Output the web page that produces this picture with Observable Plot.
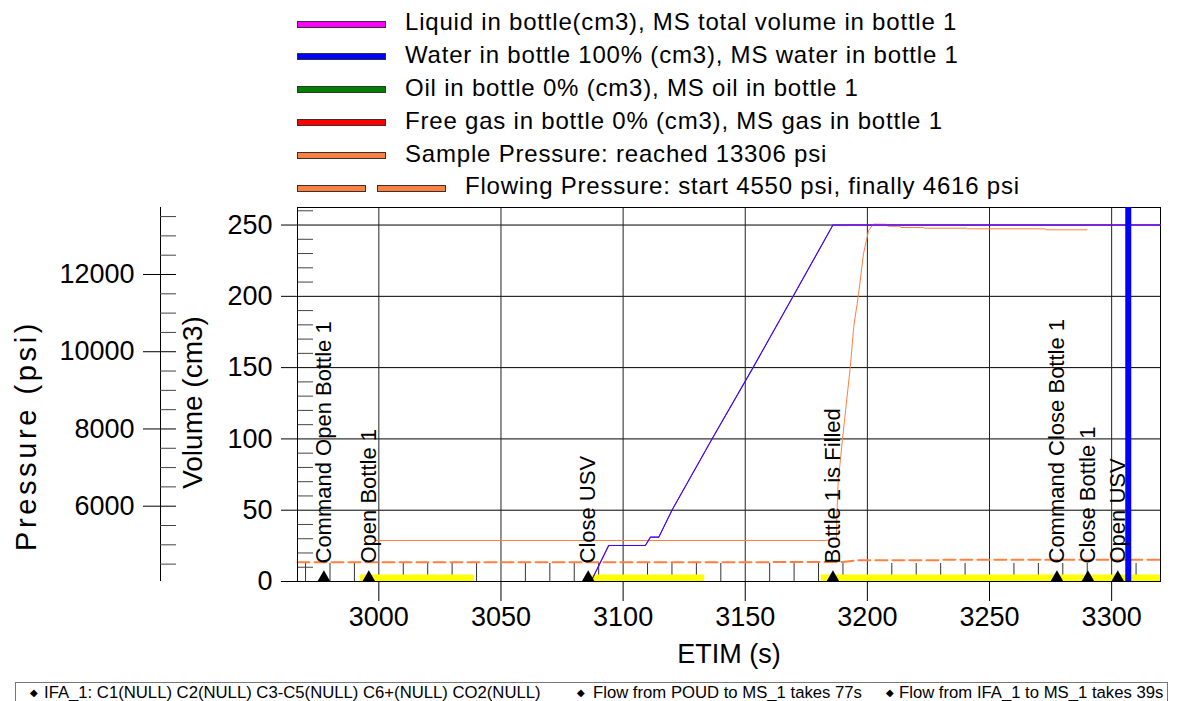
<!DOCTYPE html>
<html>
<head>
<meta charset="utf-8">
<script src="https://cdn.jsdelivr.net/npm/d3@7"></script>
<script src="https://cdn.jsdelivr.net/npm/@observablehq/plot@0.6"></script>
<style>
  body { margin: 0; background: #fff; font-family: "Liberation Sans", Arial, sans-serif; color: #000; }
  #wrap { position: relative; width: 1178px; height: 701px; overflow: hidden; background: #fff; }
  #chart { position: absolute; left: 0; top: 0; }
  #legend { position: absolute; left: 0; top: 0; width: 1178px; height: 200px; }
  .lrow { position: absolute; left: 0; height: 32px; width: 1178px; }
  .lsw { position: absolute; height: 5px; border: 1px solid #333; box-sizing: content-box; }
  .ltxt { position: absolute; font-size: 24px; letter-spacing: 0.8px; line-height: 32px; white-space: nowrap; top: -1px; }
  #caption { position: absolute; left: 15px; top: 682px; width: 1153px; height: 40px; border: 1px solid #777; box-sizing: border-box; }
  .citem { position: absolute; top: 0; font-size: 16.7px; line-height: 20px; white-space: nowrap; }
  .cdia { position: absolute; top: 5px; font-size: 10px; line-height: 10px; font-family: "DejaVu Sans", sans-serif; }
</style>
</head>
<body>
<div id="wrap">
  <div id="chart"></div>
  <div id="legend"></div>
  <div id="caption"></div>
</div>
<script>
// ---------- data ----------
const legendLabels = [
  "Liquid in bottle(cm3), MS total volume in bottle 1",
  "Water in bottle 100% (cm3), MS water in bottle 1",
  "Oil in bottle 0% (cm3), MS oil in bottle 1",
  "Free gas in bottle 0% (cm3), MS gas in bottle 1",
  "Sample Pressure: reached 13306 psi",
  "Flowing Pressure: start 4550 psi, finally 4616 psi"
];
const legendColors = ["#ff00ff", "#0000ff", "#008000", "#ff0000", "#ff8040", "#ff8040"];

const timeTicks = [3000, 3050, 3100, 3150, 3200, 3250, 3300];
const volumeTicks = [0, 50, 100, 150, 200, 250];
const pressureTicks = [6000, 8000, 10000, 12000];

// volumes (cm3) vs ETIM (s)
const volumeTime   = [3087.3, 3094.1, 3109.1, 3111.2, 3114.6, 3120.0, 3136.4, 3153.2, 3169.6, 3185.9, 3320];
const liquidVolume = [1.5, 25.3, 25.3, 31.1, 31.1, 50, 100, 150, 200, 250, 250];
const waterVolume  = [1.5, 25.3, 25.3, 31.1, 31.1, 50, 100, 150, 200, 250, 250];
const oilVolume    = [0, 0, 0, 0, 0, 0, 0, 0, 0, 0, 0];
const gasVolume    = [0, 0, 0, 0, 0, 0, 0, 0, 0, 0, 0];

// sample pressure (psi)
const sampleTime = [2998.5, 3182.8, 3186.5, 3187.3, 3187.6, 3188.0, 3189.6, 3193.0, 3194.4, 3196.4, 3198.4, 3200.5,
                    3202.5, 3208.0, 3208.3, 3213.4, 3213.7, 3223.0, 3223.3, 3240.7, 3241.0, 3272.8, 3273.1, 3289.9];
const samplePsi  = [5112, 5112, 5160, 5164, 5889, 6580, 7616, 9600, 10635, 11500, 12536, 13139,
                    13306, 13300, 13251, 13251, 13217, 13217, 13199, 13199, 13183, 13183, 13157, 13157];

// flowing pressure (psi)
const flowTime = [2966.7, 3190.0, 3196.0, 3229.0, 3231.0, 3320];
const flowPsi  = [4550, 4552, 4598, 4600, 4612, 4616];

// events
const eventTime  = [2977.5, 2995.9, 3085.7, 3185.9, 3277.6, 3290.3, 3302.5];
const eventLabel = ["Command Open Bottle 1", "Open Bottle 1", "Close USV", "Bottle 1 is Filled",
                    "Command Close Bottle 1", "Close Bottle 1", "Open USV"];

// flow periods (yellow)
const flowBarStart = [2992.5, 3087.3, 3181.1];
const flowBarEnd   = [3039.1, 3133.4, 3320];

// MS measurement
const msTime = [3306.8];

const captionItems = [
  "IFA_1: C1(NULL) C2(NULL) C3-C5(NULL) C6+(NULL) CO2(NULL)",
  "Flow from POUD to MS_1 takes 77s",
  "Flow from IFA_1 to MS_1 takes 39s"
];

// ---------- scales / mapping ----------
const xDomain = [2966.7, 3320];
const volTop = 262.3;
const pMin = 4050, pMax = 13735;
const toVol = p => (p - pMin) / (pMax - pMin) * volTop;
const toPsi = v => pMin + v / volTop * (pMax - pMin);

const timeMinor = d3.range(2970, 3320, 10).filter(t => t % 50 !== 0);
const volMinor = d3.range(10, 261, 10).filter(v => v % 50 !== 0);
const psiMinor = d3.range(4500, 13501, 500).filter(p => p % 2000 !== 0);

const series = (t, v) => t.map((d, i) => ({t: d, v: v[i]}));
const liquid = series(volumeTime, liquidVolume);
const water = series(volumeTime, waterVolume);
const oil = series(volumeTime, oilVolume);
const gas = series(volumeTime, gasVolume);
const sample = series(sampleTime, samplePsi.map(toVol));
const flowing = series(flowTime, flowPsi.map(toVol));
const events = eventTime.map((t, i) => ({t, label: eventLabel[i]}));
const bars = flowBarStart.map((s, i) => ({s, e: flowBarEnd[i]}));

const FONT = '"Liberation Sans", Arial, sans-serif';

const chart = Plot.plot({
  width: 1178,
  height: 681,
  marginLeft: 297,
  marginRight: 18,
  marginTop: 207,
  marginBottom: 100,
  style: {fontFamily: FONT, fontSize: "27px", color: "#000", background: "transparent", overflow: "visible"},
  x: {domain: xDomain},
  y: {domain: [0, volTop]},
  marks: [
    Plot.gridY(volumeTicks, {stroke: "#000", strokeOpacity: 1}),
    Plot.gridX(timeTicks, {stroke: "#222", strokeOpacity: 1}),
    Plot.axisX(timeMinor, {anchor: "bottom", tickSize: -18, fill: "none", stroke: "#333", label: null}),
    Plot.axisY(volMinor, {anchor: "left", tickSize: -16, fill: "none", stroke: "#444", label: null}),
    Plot.line(oil, {x: "t", y: "v", stroke: "#008000", strokeWidth: 1}),
    Plot.line(gas, {x: "t", y: "v", stroke: "#ff0000", strokeWidth: 1}),
    Plot.line(flowing, {x: "t", y: "v", stroke: "#ff8040", strokeWidth: 2, strokeDasharray: "12 5"}),
    Plot.ruleY(bars, {x1: "s", x2: "e", y: 0, stroke: "#ffff00", strokeWidth: 7, dy: -3.5}),
    Plot.frame({stroke: "#000"}),
    Plot.line(sample, {x: "t", y: "v", stroke: "#ff8040", strokeWidth: 1}),
    Plot.line(liquid, {x: "t", y: "v", stroke: "#ff00ff", strokeWidth: 1}),
    Plot.line(water, {x: "t", y: "v", stroke: "#2a10f0", strokeWidth: 1.1}),
    Plot.ruleX(msTime, {stroke: "#0000ff", strokeWidth: 6}),
    Plot.dot(events, {x: "t", y: 0, symbol: "triangle", r: 4.8, fill: "#000", stroke: "none", dy: -3.8}),
    Plot.text(events, {x: "t", y: 0, text: "label", rotate: -90, textAnchor: "start", lineAnchor: "middle",
                       dy: -18, fontSize: 22, fill: "#000"}),
    // x axis
    Plot.axisX(timeTicks, {anchor: "bottom", tickSize: 20, tickPadding: 5, fontSize: 27, tickFormat: d => String(d), label: null}),
    Plot.text(["ETIM (s)"], {frameAnchor: "bottom", dy: 81, lineAnchor: "bottom", fontSize: 27}),
    // volume axis
    Plot.axisY(volumeTicks, {anchor: "left", tickSize: 16, tickPadding: 9, fontSize: 27, tickFormat: d => String(d), label: null}),
    Plot.text(["Volume (cm3)"], {frameAnchor: "left", textAnchor: "middle", dx: -104, dy: 8, rotate: -90, lineAnchor: "middle", fontSize: 28}),
    // pressure axis
    Plot.ruleX([xDomain[0]], {y1: 0, y2: volTop, dx: -137, stroke: "#000"}),
    Plot.axisY(pressureTicks.map(toVol), {anchor: "left", dx: -121, tickSize: 33, tickPadding: 9, fontSize: 27,
                                          tickFormat: v => String(Math.round(toPsi(v))), label: null}),
    Plot.axisY(psiMinor.map(toVol), {anchor: "left", dx: -121, tickSize: 16, fill: "none", stroke: "#444", label: null}),
    Plot.text(["Pressure (psi)"], {frameAnchor: "left", textAnchor: "middle", dx: -271, dy: 41, rotate: -90, lineAnchor: "middle", fontSize: 29})
  ]
});
document.getElementById("chart").appendChild(chart);
d3.select(chart).selectAll("text")
  .filter(function () { return this.textContent === "Pressure (psi)"; })
  .attr("letter-spacing", "3.6px");

// ---------- legend ----------
const legend = document.getElementById("legend");
legendLabels.forEach((lab, i) => {
  const row = document.createElement("div");
  row.className = "lrow";
  row.style.top = (7.3 + 32.8 * i) + "px";
  const addSw = (left, w) => {
    const s = document.createElement("div");
    s.className = "lsw";
    s.style.left = left + "px";
    s.style.top = "13.4px";
    s.style.width = (w - 2) + "px";
    s.style.background = legendColors[i];
    row.appendChild(s);
  };
  let textLeft = 405;
  if (i === 5) { addSw(297, 69); addSw(377, 69); textLeft = 465; }
  else addSw(297, 89);
  const t = document.createElement("div");
  t.className = "ltxt";
  t.style.left = textLeft + "px";
  t.textContent = lab;
  row.appendChild(t);
  legend.appendChild(row);
});

// ---------- caption ----------
const cap = document.getElementById("caption");
const diaX = [14, 561, 870];
const txtX = [28, 577, 883];
captionItems.forEach((c, i) => {
  const d = document.createElement("span");
  d.className = "cdia";
  d.style.left = diaX[i] + "px";
  d.textContent = "\u25C6";
  cap.appendChild(d);
  const s = document.createElement("span");
  s.className = "citem";
  s.style.left = txtX[i] + "px";
  s.textContent = c;
  cap.appendChild(s);
});
</script>
</body>
</html>
